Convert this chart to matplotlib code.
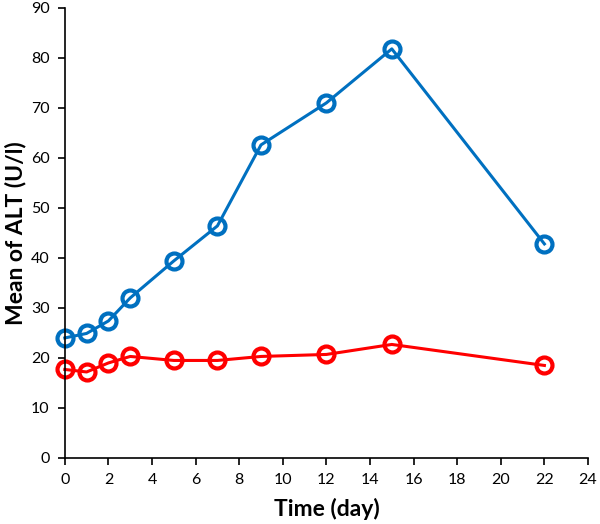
import matplotlib
matplotlib.use("Agg")
import matplotlib.pyplot as plt

days = [0, 1, 2, 3, 5, 7, 9, 12, 15, 22]
alt_blue = [24.0, 24.9, 27.4, 32.0, 39.4, 46.4, 62.6, 71.0, 81.8, 42.8]
alt_red = [17.7, 17.2, 19.0, 20.3, 19.5, 19.5, 20.3, 20.7, 22.7, 18.5]

plt.rcParams["font.family"] = ["Lato", "DejaVu Sans"]

fig = plt.figure(figsize=(6, 5.24), dpi=100)
ax = fig.add_axes([0.108, 0.126, 0.872, 0.859])

ax.plot(days, alt_blue, color="#0070C0", lw=2.2, marker="o", ms=11.5,
        mfc="none", mew=3, clip_on=False)
ax.plot(days, alt_red, color="#FF0000", lw=2.2, marker="o", ms=11.5,
        mfc="none", mew=3, clip_on=False)

ax.set_xlim(0, 24)
ax.set_ylim(0, 90)
ax.set_xticks(range(0, 25, 2))
ax.set_yticks(range(0, 91, 10))
for s in ["top", "right"]:
    ax.spines[s].set_visible(False)
for s in ["left", "bottom"]:
    ax.spines[s].set_linewidth(1.2)
ax.tick_params(direction="out", length=5, width=1.2, labelsize=11.5,
               colors="black", pad=6)

ax.set_xlabel("Time (day)", fontsize=16.5, fontweight="bold", labelpad=8)
ax.set_ylabel("Mean of ALT (U/l)", fontsize=16.5, fontweight="bold", labelpad=3)

fig.savefig("out.png", dpi=100)
